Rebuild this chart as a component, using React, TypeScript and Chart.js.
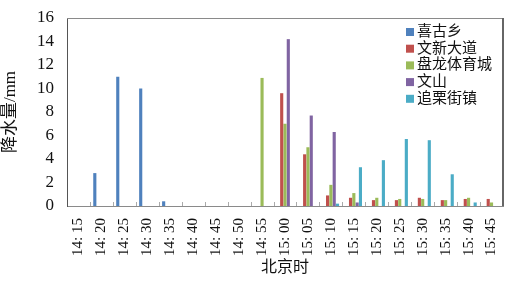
import React, { useEffect, useRef } from "react";
import { Chart, registerables } from "chart.js";

Chart.register(...registerables);

const categories = [
  "14: 15", "14: 20", "14: 25", "14: 30", "14: 35", "14: 40", "14: 45", "14: 50", "14: 55",
  "15: 00", "15: 05", "15: 10", "15: 15", "15: 20", "15: 25", "15: 30", "15: 35", "15: 40", "15: 45",
];

const seriesNames = ["喜古乡", "文新大道", "盘龙体育城", "文山", "追栗街镇"];
const seriesColors = ["#4F81BD", "#C0504D", "#9BBB59", "#8064A2", "#4BACC6"];

const xiGuXiang = [null, 2.8, 11.0, 10.0, 0.4, null, null, null, null, null, null, null, null, null, null, null, null, null, null];
const wenXinDaDao = [null, null, null, null, null, null, null, null, null, 9.6, 4.4, 0.9, 0.7, 0.5, 0.5, 0.7, 0.5, 0.6, 0.6];
const panLong = [null, null, null, null, null, null, null, null, 10.9, 7.0, 5.0, 1.8, 1.1, 0.7, 0.6, 0.6, 0.5, 0.7, 0.3];
const wenShan = [null, null, null, null, null, null, null, null, null, 14.2, 7.7, 6.3, 0.3, null, null, null, null, null, null];
const zhuiLi = [null, null, null, null, null, null, null, null, null, null, null, 0.2, 3.3, 3.9, 5.7, 5.6, 2.7, 0.3, null];

const seriesValues = [xiGuXiang, wenXinDaDao, panLong, wenShan, zhuiLi];

const FONT = '"Liberation Serif", "Noto Sans CJK SC", serif';

const decoPlugin = {
  id: "deco",
  afterDraw(chart: any) {
    const { ctx, chartArea } = chart;
    const xs = chart.scales.x;
    ctx.save();
    ctx.strokeStyle = "#8a8a8a";
    ctx.lineWidth = 1;
    ctx.beginPath();
    ctx.moveTo(chartArea.left, chartArea.top + 0.5);
    ctx.lineTo(chartArea.right, chartArea.top + 0.5);
    ctx.stroke();
    ctx.strokeStyle = "#666";
    ctx.lineWidth = 2;
    ctx.beginPath();
    ctx.moveTo(chartArea.right, chartArea.top);
    ctx.lineTo(chartArea.right, chartArea.bottom);
    ctx.stroke();
    ctx.strokeStyle = "#aaaaaa";
    ctx.lineWidth = 1;
    const n = categories.length;
    for (let i = 1; i < n; i++) {
      const x = Math.round((xs.getPixelForValue(i - 1) + xs.getPixelForValue(i)) / 2) + 0.5;
      ctx.beginPath();
      ctx.moveTo(x, chartArea.bottom);
      ctx.lineTo(x, chartArea.bottom - 4);
      ctx.stroke();
    }
    const lx = chartArea.right - 97;
    ctx.font = "15px " + FONT;
    ctx.textBaseline = "middle";
    ctx.textAlign = "left";
    seriesNames.forEach((name, i) => {
      const cy = chartArea.top + 14 + i * 16.7;
      ctx.fillStyle = seriesColors[i];
      ctx.fillRect(lx, cy - 4, 8, 8);
      ctx.fillStyle = "#111";
      ctx.fillText(name, lx + 11, cy);
    });
    ctx.restore();
  },
};

export default function App() {
  const ref = useRef<HTMLCanvasElement>(null);
  useEffect(() => {
    document.body.style.margin = "0";
    const chart = new Chart(ref.current!, {
      type: "bar",
      data: {
        labels: categories,
        datasets: seriesNames.map((name, i) => ({
          label: name,
          data: seriesValues[i] as any,
          backgroundColor: seriesColors[i],
          borderWidth: 0,
          categoryPercentage: 0.72,
          barPercentage: 0.95,
        })),
      },
      options: {
        animation: false,
        responsive: false,
        maintainAspectRatio: false,
        layout: { padding: { left: 0, right: 17, top: 18, bottom: 0 } },
        plugins: { legend: { display: false }, tooltip: { enabled: false } },
        scales: {
          x: {
            grid: { display: false },
            border: { display: true, color: "#8a8a8a", width: 1 },
            ticks: {
              minRotation: 90,
              maxRotation: 90,
              autoSkip: false,
              padding: 4,
              color: "#111",
              font: { family: FONT, size: 15 },
            },
            title: {
              display: true,
              text: "北京时",
              color: "#111",
              font: { family: FONT, size: 16 },
              padding: { top: 0, bottom: 4 },
            },
            afterFit(scale: any) {
              scale.height = 75;
            },
          },
          y: {
            min: 0,
            max: 16,
            grid: { display: false },
            border: { display: true, color: "#555", width: 1 },
            ticks: {
              stepSize: 2,
              padding: 5,
              color: "#111",
              font: { family: FONT, size: 17 },
            },
            title: {
              display: true,
              text: "降水量/mm",
              color: "#111",
              font: { family: FONT, size: 17 },
              padding: { top: 0, bottom: 2 },
            },
            afterFit(scale: any) {
              scale.width = 67;
            },
          },
        },
      },
      plugins: [decoPlugin],
    });
    return () => chart.destroy();
  }, []);
  return <canvas ref={ref} width={520} height={281} style={{ display: "block", width: 520, height: 281 }} />;
}
